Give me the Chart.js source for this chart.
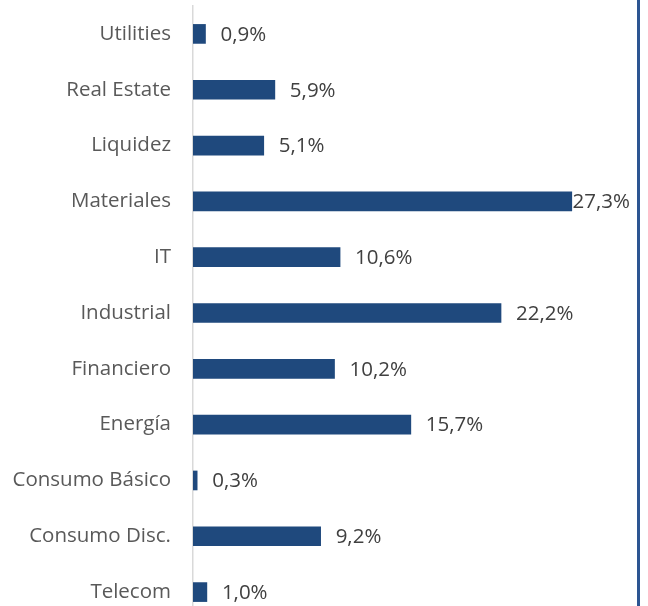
<!DOCTYPE html>
<html><head><meta charset="utf-8">
<script src="https://cdn.jsdelivr.net/npm/chart.js@4/dist/chart.umd.min.js"></script>
<style>html,body{margin:0;padding:0;background:#fff;overflow:hidden;width:648px;height:606px}#wrap{position:relative;width:648px;height:620px}</style>
</head><body><div id="wrap"><canvas id="c" width="648" height="620"></canvas></div>
<script>
const categories = ["Utilities","Real Estate","Liquidez","Materiales","IT","Industrial","Financiero","Energía","Consumo Básico","Consumo Disc.","Telecom"];
const values = [0.9,5.9,5.1,27.3,10.6,22.2,10.2,15.7,0.3,9.2,1.0];
const FONT = "'Open Sans', sans-serif";
const FSIZE = 20.5;
const fmt = v => v.toFixed(1).replace('.', ',') + '%';

const labelsPlugin = {
  id: 'lbls',
  afterDatasetsDraw(chart) {
    const ctx = chart.ctx, meta = chart.getDatasetMeta(0), area = chart.chartArea;
    ctx.save();
    ctx.font = FSIZE + 'px ' + FONT;
    ctx.fillStyle = '#404040';
    ctx.textBaseline = 'middle';
    meta.data.forEach((bar, i) => {
      const t = fmt(values[i]);
      const w = ctx.measureText(t).width;
      let x = bar.x + 15;
      if (x + w > area.right - 7) x = area.right - 7 - w;
      ctx.fillText(t, x, bar.y + 1);
    });
    ctx.restore();
  },
  afterDraw(chart) {
    const ctx = chart.ctx, area = chart.chartArea;
    ctx.save();
    ctx.strokeStyle = '#2c5592';
    ctx.lineWidth = 3;
    ctx.beginPath();
    ctx.moveTo(area.right + 1.5, 0);
    ctx.lineTo(area.right + 1.5, chart.height);
    ctx.stroke();
    ctx.restore();
  }
};

new Chart(document.getElementById('c'), {
  type: 'bar',
  data: { labels: categories, datasets: [{ data: values, backgroundColor: '#1f497d', borderWidth: 0, barThickness: 19 }] },
  options: {
    indexAxis: 'y',
    responsive: false,
    animation: false,
    layout: { padding: { left: 0, right: 11, top: 6, bottom: 0 } },
    plugins: { legend: { display: false }, tooltip: { enabled: false } },
    scales: {
      x: { min: 0, max: 32, display: false },
      y: {
        grid: { display: false, drawTicks: false },
        border: { display: true, color: '#d9d9d9', width: 1.5 },
        ticks: { color: '#595959', font: { family: FONT, size: FSIZE }, padding: 22 },
        afterFit(s) { s.width = 193; s.paddingTop = 0; s.paddingBottom = 0; }
      }
    }
  },
  plugins: [labelsPlugin]
});
</script></body></html>
